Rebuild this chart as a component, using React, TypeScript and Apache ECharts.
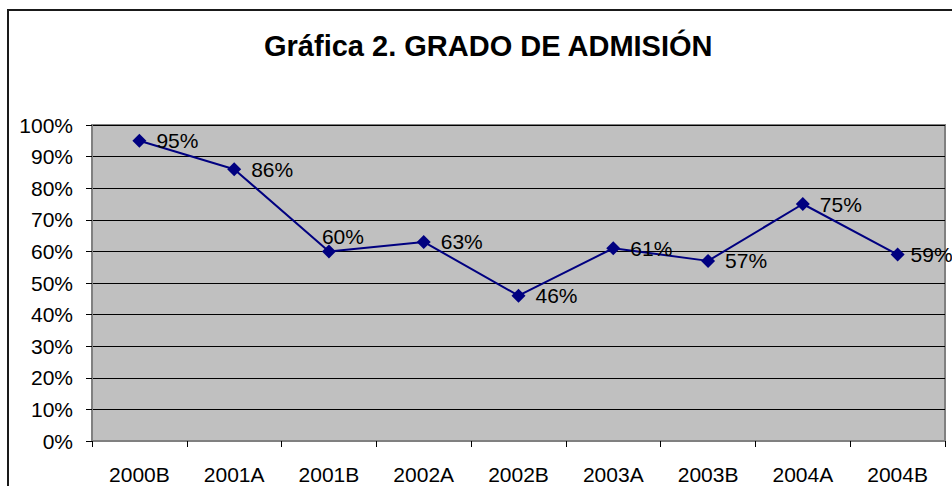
import React, { useEffect, useRef } from "react";
import * as echarts from "echarts";

const categories = ["2000B", "2001A", "2001B", "2002A", "2002B", "2003A", "2003B", "2004A", "2004B"];
const admission = [0.95, 0.86, 0.6, 0.63, 0.46, 0.61, 0.57, 0.75, 0.59];
const titleText = "Gráfica 2. GRADO DE ADMISIÓN";

const FONT = "'Liberation Sans', Arial, sans-serif";

export default function App() {
  const ref = useRef<HTMLDivElement>(null);
  useEffect(() => {
    if (!ref.current) return;
    const chart = echarts.init(ref.current, undefined, { renderer: "svg" });
    const data = admission.map((v, i) => {
      if (i === 2) {
        return {
          value: v,
          label: { position: [0, -18], align: "left", verticalAlign: "top" },
        };
      }
      if (i === admission.length - 1) {
        return { value: v, label: { distance: 6 } };
      }
      return { value: v };
    });
    chart.setOption({
      animation: false,
      backgroundColor: "#ffffff",
      textStyle: { fontFamily: FONT },
      title: {
        text: titleText,
        left: 259,
        top: 26,
        textStyle: { fontFamily: FONT, fontSize: 29, fontWeight: "bold", color: "#000" },
      },
      graphic: [
        {
          type: "rect",
          shape: { x: 8, y: 10, width: 980, height: 520 },
          style: { fill: "none", stroke: "#1a1a1a", lineWidth: 2 },
          silent: true,
          z: -1,
        },
      ],
      grid: {
        left: 92,
        top: 125,
        right: 7,
        bottom: 45,
        show: true,
        backgroundColor: "#C0C0C0",
        borderColor: "#808080",
        borderWidth: 2,
      },
      xAxis: {
        type: "category",
        data: categories,
        boundaryGap: true,
        axisLine: { show: true, lineStyle: { color: "#808080", width: 2 } },
        axisTick: { show: true, length: 6, lineStyle: { color: "#000", width: 1 } },
        axisLabel: { color: "#000", fontSize: 21, fontFamily: FONT, margin: 23 },
        splitLine: { show: false },
      },
      yAxis: {
        type: "value",
        min: 0,
        max: 1,
        interval: 0.1,
        axisLine: { show: true, lineStyle: { color: "#808080", width: 2 } },
        axisTick: { show: true, length: 6, lineStyle: { color: "#000", width: 1 } },
        axisLabel: {
          color: "#000",
          fontSize: 21,
          fontFamily: FONT,
          margin: 19,
          formatter: (v: number) => Math.round(v * 100) + "%",
        },
        splitLine: { show: true, lineStyle: { color: "#000", width: 1 } },
      },
      series: [
        {
          type: "line",
          data,
          symbol: "diamond",
          symbolSize: 14,
          itemStyle: { color: "#000080" },
          lineStyle: { color: "#000080", width: 2 },
          label: {
            show: true,
            position: "right",
            distance: 10,
            color: "#000",
            fontSize: 21,
            fontFamily: FONT,
            formatter: (p: any) => Math.round(p.value * 100) + "%",
          },
        },
      ],
    });
    return () => chart.dispose();
  }, []);
  return (
    <div
      ref={ref}
      style={{ position: "fixed", left: 0, top: 0, width: 952, height: 486 }}
    />
  );
}
